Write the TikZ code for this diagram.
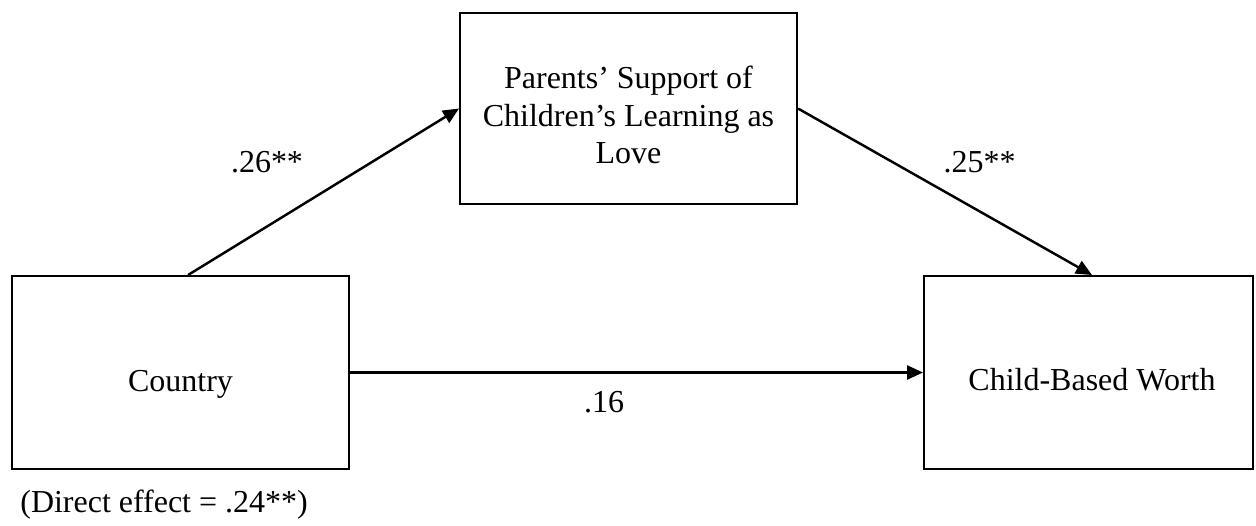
\documentclass[tikz,border=0pt]{standalone}
\usepackage{fontspec}
\setmainfont{Liberation Serif}
\usetikzlibrary{arrows.meta}

\begin{document}
\begin{tikzpicture}[varbox/.style={rectangle,draw,line width=1.1pt,inner sep=0pt},
		coef/.style={-{Triangle[length=0.32cm,width=0.28cm]},line width=1.4pt},
		font=\fontsize{18.2}{21.3}\selectfont]
			\useasboundingbox (0,0) rectangle (25.12,-10.5);
			\draw (3.61,-7.45) node [varbox,minimum width=6.74cm,minimum height=3.86cm] (country) {};
			\draw (3.61,-7.82) node [anchor=base,inner sep=0pt] (countrytxt) {Country};
			\draw (12.57,-2.17) node [varbox,minimum width=6.74cm,minimum height=3.82cm] (parents) {};
			\draw (12.57,-2.30) node [align=center,inner sep=0pt] (parentstxt) {Parents' Support of\\ Children's Learning as\\ Love};
			\draw (21.77,-7.45) node [varbox,minimum width=6.58cm,minimum height=3.86cm] (child) {};
			\draw (21.84,-7.80) node [anchor=base,inner sep=0pt] (childtxt) {Child-Based Worth};
			\draw (5.34,-3.44) node [anchor=base,inner sep=0pt] (a) {.26**};
			\draw (19.59,-3.44) node [anchor=base,inner sep=0pt] (b) {.25**};
			\draw (12.08,-8.24) node [anchor=base,inner sep=0pt] (c) {.16};
			\draw (0.40,-10.24) node [anchor=base west,inner sep=0pt] (direct) {(Direct effect = .24**)};
			\path[coef]
				([xshift=0.15cm]country.north) edge (parents.west)
				(parents.east) edge ([xshift=0.07cm]child.north)
				(country.east) edge (child.west);
		\end{tikzpicture}
\end{document}
